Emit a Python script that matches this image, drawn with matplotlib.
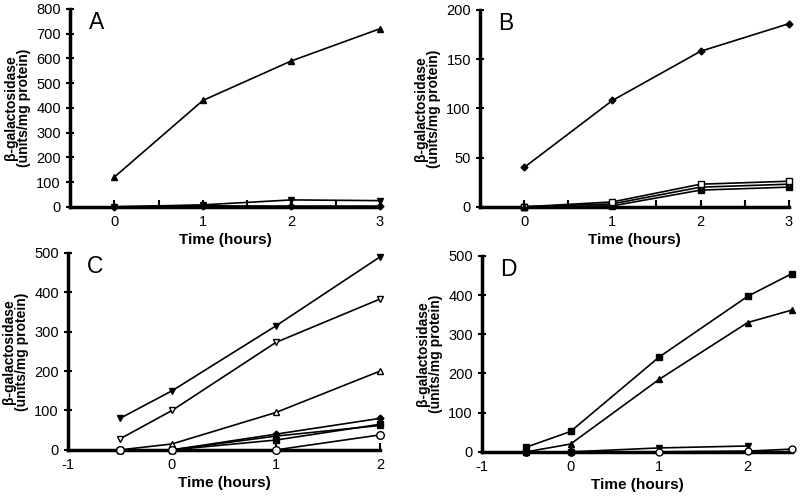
import matplotlib.pyplot as plt
from matplotlib.ticker import MultipleLocator

plt.rcParams['font.family'] = ['Liberation Sans', 'DejaVu Sans']
plt.rcParams['axes.unicode_minus'] = False

# Panel A: time 0..3 h
time_ab = [0, 1, 2, 3]
a_tri_up = [120, 430, 590, 720]
a_tri_down = [0, 8, 28, 25]
a_diamond = [0, 4, 3, 3]

# Panel B
b_diamond = [40, 108, 158, 186]
b_open_sq = [0, 5, 23, 26]
b_open_tri_down = [0, 3, 20, 23]
b_sq = [0, 1, 17, 20]

# Panel C: time -0.5..2 h
time_c = [-0.5, 0, 1, 2]
c_tri_down = [80, 150, 315, 490]
c_open_tri_down = [28, 100, 273, 383]
c_open_tri_up = [0, 15, 95, 200]
c_diamond = [0, 0, 40, 80]
c_tri_up = [0, 0, 35, 62]
c_sq = [0, 0, 25, 65]
c_open_circle = [0, 0, 0, 38]

# Panel D: time -0.5..2.5 h
time_d = [-0.5, 0, 1, 2, 2.5]
d_sq = [12, 52, 242, 397, 455]
d_tri_up = [0, 20, 185, 330, 362]
d_tri_down = [0, 0, 10, 15]
d_open_circle = [0, 0, 0, 2, 7]
d_circle = [0, 0]

fig = plt.figure(figsize=(8, 4.96), dpi=100)
axA = fig.add_axes([0.0875, 0.583, 0.3875, 0.399])
axB = fig.add_axes([0.600, 0.583, 0.386, 0.397])
axC = fig.add_axes([0.085, 0.093, 0.390, 0.397])
axD = fig.add_axes([0.6025, 0.089, 0.3875, 0.395])


def line(ax, x, y, marker, filled=True, ms=4.5):
    ax.plot(x, y, color='black', lw=1.2, marker=marker, ms=ms,
            mfc='black' if filled else 'white', mec='black', mew=1.0,
            clip_on=False, zorder=3)


def style(ax, letter, xlim, ylim, ystep):
    ax.set_xlim(*xlim)
    ax.set_ylim(*ylim)
    ax.yaxis.set_major_locator(MultipleLocator(ystep))
    ax.xaxis.set_major_locator(MultipleLocator(1))
    for s in ['top', 'right']:
        ax.spines[s].set_visible(False)
    for s in ['left', 'bottom']:
        ax.spines[s].set_linewidth(2.5)
    ax.tick_params(axis='x', direction='in', length=5, width=1.5, labelsize=10.5, pad=6)
    ax.tick_params(axis='y', direction='inout', length=6, width=1.5, labelsize=10.5)
    ax.set_xlabel('Time (hours)', fontsize=11, fontweight='bold', labelpad=3)
    ax.set_ylabel('β-galactosidase\n(units/mg protein)', fontsize=10,
                  fontweight='bold', linespacing=0.9, labelpad=4)
    ax.text(0.06, 0.99, letter, transform=ax.transAxes, fontsize=16.5,
            va='top', ha='left')


line(axA, time_ab, a_tri_up, '^')
line(axA, time_ab, a_diamond, 'D', ms=3.5)
line(axA, time_ab, a_tri_down, 'v')
style(axA, 'A', (-0.5, 3), (0, 800), 100)
axA.xaxis.set_minor_locator(MultipleLocator(0.5))
axA.tick_params(axis='x', which='minor', direction='in', length=5, width=1.5)

line(axB, time_ab, b_diamond, 'D', ms=3.5)
line(axB, time_ab, b_sq, 's')
line(axB, time_ab, b_open_tri_down, 'v', filled=False)
line(axB, time_ab, b_open_sq, 's', filled=False)
line(axB, [0], [0], '^')
style(axB, 'B', (-0.5, 3), (0, 200), 50)
axB.xaxis.set_minor_locator(MultipleLocator(0.5))
axB.tick_params(axis='x', which='minor', direction='in', length=5, width=1.5)

line(axC, time_c, c_tri_down, 'v')
line(axC, time_c, c_open_tri_down, 'v', filled=False)
line(axC, time_c, c_open_tri_up, '^', filled=False)
line(axC, time_c, c_diamond, 'D', ms=3.5)
line(axC, time_c, c_tri_up, '^')
line(axC, time_c, c_sq, 's')
line(axC, time_c, c_open_circle, 'o', filled=False, ms=5.5)
style(axC, 'C', (-1, 2), (0, 500), 100)

line(axD, time_d, d_sq, 's', ms=5)
line(axD, time_d, d_tri_up, '^')
line(axD, time_d[:4], d_tri_down, 'v')
line(axD, time_d, d_open_circle, 'o', filled=False, ms=5)
line(axD, time_d[:2], d_circle, 'o', ms=5)
style(axD, 'D', (-1, 2.5), (0, 500), 100)

fig.savefig('out.png', dpi=100)
